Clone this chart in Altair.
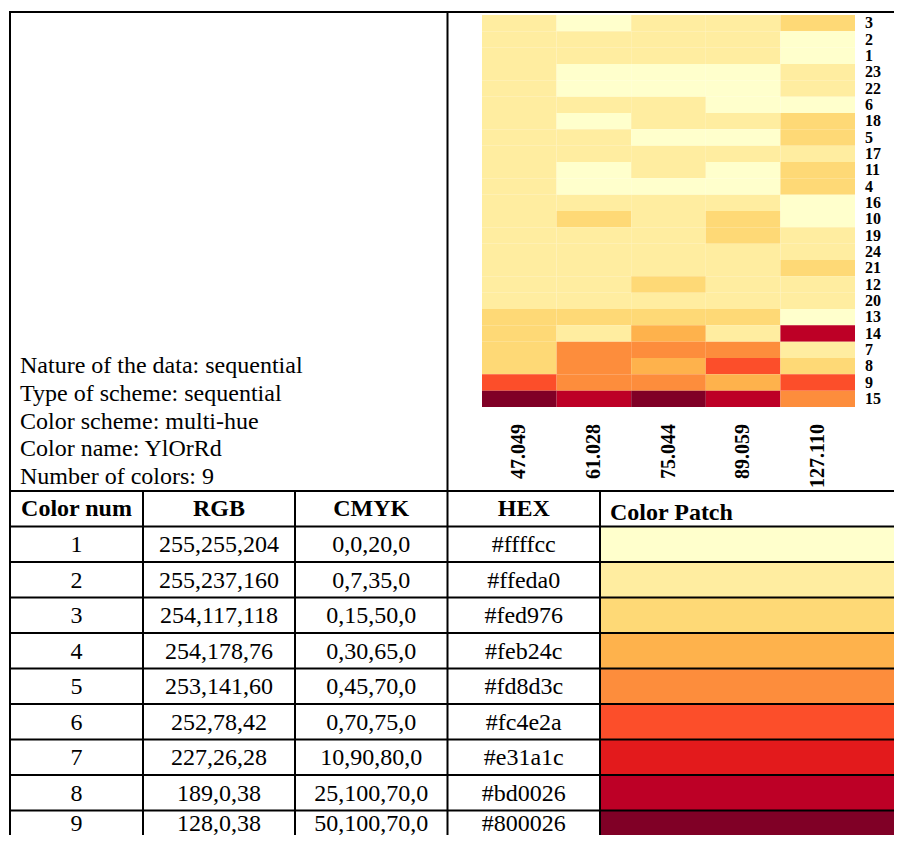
import altair as alt
import pandas as pd

# ---------------- data ----------------
info_lines = [
    "Nature of the data: sequential",
    "Type of scheme: sequential",
    "Color scheme: multi-hue",
    "Color name: YlOrRd",
    "Number of colors: 9",
]
headers = ["Color num", "RGB", "CMYK", "HEX", "Color Patch"]
color_nums = ["1", "2", "3", "4", "5", "6", "7", "8", "9"]
rgb_vals = ["255,255,204", "255,237,160", "254,117,118", "254,178,76", "253,141,60",
            "252,78,42", "227,26,28", "189,0,38", "128,0,38"]
cmyk_vals = ["0,0,20,0", "0,7,35,0", "0,15,50,0", "0,30,65,0", "0,45,70,0",
             "0,70,75,0", "10,90,80,0", "25,100,70,0", "50,100,70,0"]
hex_vals = ["#ffffcc", "#ffeda0", "#fed976", "#feb24c", "#fd8d3c",
            "#fc4e2a", "#e31a1c", "#bd0026", "#800026"]

heat_cols = ["47.049", "61.028", "75.044", "89.059", "127.110"]
heat_rows = ["3", "2", "1", "23", "22", "6", "18", "5", "17", "11", "4", "16",
             "10", "19", "24", "21", "12", "20", "13", "14", "7", "8", "9", "15"]
heat_levels = [
    [2, 1, 2, 2, 3],
    [2, 2, 2, 2, 1],
    [2, 2, 2, 2, 1],
    [2, 1, 1, 1, 2],
    [2, 1, 1, 1, 2],
    [2, 2, 2, 1, 1],
    [2, 1, 2, 2, 3],
    [2, 2, 1, 1, 3],
    [2, 2, 2, 2, 2],
    [2, 1, 2, 1, 3],
    [2, 1, 1, 1, 3],
    [2, 2, 2, 2, 1],
    [2, 3, 2, 3, 1],
    [2, 2, 2, 3, 2],
    [2, 2, 2, 2, 2],
    [2, 2, 2, 2, 3],
    [2, 2, 3, 2, 2],
    [2, 2, 2, 2, 2],
    [3, 3, 3, 3, 1],
    [3, 2, 4, 2, 8],
    [3, 5, 5, 5, 2],
    [3, 5, 4, 6, 3],
    [6, 5, 5, 4, 6],
    [9, 8, 9, 8, 5],
]

# ---------------- layout (chart pixels) ----------------
W, H = 886, 827
FONT = "Liberation Serif"
COL_EDGES = [2, 135, 287, 439.5, 592, 904]
TOP = 4
HEAD_TOP = 483
ROW_H = 35.5
HEAT_XR = [474, 847]
HEAT_YR = [7, 399]
LW = 2
FS = 24


def sx():
    return alt.Scale(domain=[0, W], range=[0, W], nice=False, zero=False)


def sy():
    return alt.Scale(domain=[0, H], range=[0, H], nice=False, zero=False)


n = len(color_nums)
row_tops = [HEAD_TOP + ROW_H * (i + 1) for i in range(n)]

# colour patches
patch_df = pd.DataFrame({
    "x": [COL_EDGES[4]] * n, "x2": [COL_EDGES[5]] * n,
    "y": row_tops, "y2": [t + ROW_H for t in row_tops], "hex": hex_vals,
})
patches = alt.Chart(patch_df).mark_rect().encode(
    x=alt.X("x:Q", scale=sx(), axis=None), x2="x2:Q",
    y=alt.Y("y:Q", scale=sy(), axis=None), y2="y2:Q",
    color=alt.Color("hex:N", scale=None),
)

# grid lines
lines = []
for yy in [TOP, HEAD_TOP] + [HEAD_TOP + ROW_H * (i + 1) for i in range(n + 1)]:
    lines.append(dict(x=COL_EDGES[0], x2=COL_EDGES[5], y=yy, y2=yy))
for xx in [COL_EDGES[0], COL_EDGES[3]]:
    lines.append(dict(x=xx, x2=xx, y=TOP, y2=H + 20))
for xx in [COL_EDGES[1], COL_EDGES[2], COL_EDGES[4]]:
    lines.append(dict(x=xx, x2=xx, y=HEAD_TOP, y2=H + 20))
grid = alt.Chart(pd.DataFrame(lines)).mark_rule(
    color="black", strokeWidth=LW, strokeCap="square"
).encode(
    x=alt.X("x:Q", scale=sx(), axis=None), x2="x2:Q",
    y=alt.Y("y:Q", scale=sy(), axis=None), y2="y2:Q",
)

# header texts
hdr_rows = []
for j, h in enumerate(headers[:4]):
    hdr_rows.append(dict(x=(COL_EDGES[j] + COL_EDGES[j + 1]) / 2, y=HEAD_TOP + ROW_H / 2, t=h))
hdr = alt.Chart(pd.DataFrame(hdr_rows)).mark_text(
    font=FONT, fontSize=FS, fontWeight="bold", align="center", baseline="middle"
).encode(
    x=alt.X("x:Q", scale=sx(), axis=None), y=alt.Y("y:Q", scale=sy(), axis=None), text="t:N"
)
hdr_patch = alt.Chart(pd.DataFrame([dict(x=COL_EDGES[4] + 10, y=HEAD_TOP + ROW_H / 2 + 4, t=headers[4])])).mark_text(
    font=FONT, fontSize=FS, fontWeight="bold", align="left", baseline="middle"
).encode(
    x=alt.X("x:Q", scale=sx(), axis=None), y=alt.Y("y:Q", scale=sy(), axis=None), text="t:N"
)

# body texts (centred in the visible part of each cell)
body_rows = []
for i in range(n):
    top = row_tops[i]
    bot = min(top + ROW_H, H)
    cy = (top + bot) / 2 + 1
    for j, vals in enumerate([color_nums, rgb_vals, cmyk_vals, hex_vals]):
        body_rows.append(dict(x=(COL_EDGES[j] + COL_EDGES[j + 1]) / 2, y=cy, t=vals[i]))
body = alt.Chart(pd.DataFrame(body_rows)).mark_text(
    font=FONT, fontSize=FS, align="center", baseline="middle"
).encode(
    x=alt.X("x:Q", scale=sx(), axis=None), y=alt.Y("y:Q", scale=sy(), axis=None), text="t:N"
)

# info texts
info_df = pd.DataFrame({"x": [12] * len(info_lines),
                        "y": [358 + 27.8 * k for k in range(len(info_lines))],
                        "t": info_lines})
info = alt.Chart(info_df).mark_text(
    font=FONT, fontSize=FS, align="left", baseline="middle"
).encode(
    x=alt.X("x:Q", scale=sx(), axis=None), y=alt.Y("y:Q", scale=sy(), axis=None), text="t:N"
)

# heatmap
hm_rows = []
for r, lv in zip(heat_rows, heat_levels):
    for c, v in zip(heat_cols, lv):
        hm_rows.append(dict(row=r, col=c, level=v))
hm_df = pd.DataFrame(hm_rows)
hx = alt.Scale(domain=heat_cols, range=HEAT_XR, paddingInner=0, paddingOuter=0)
hy = alt.Scale(domain=heat_rows, range=HEAT_YR, paddingInner=0, paddingOuter=0)
heat_rect = alt.Chart(hm_df).mark_rect().encode(
    x=alt.X("col:N", scale=hx, axis=None),
    y=alt.Y("row:N", scale=hy, axis=None),
    color=alt.Color("level:O", scale=alt.Scale(domain=list(range(1, 10)), range=hex_vals), legend=None),
)
row_lbl = alt.Chart(pd.DataFrame({"row": heat_rows})).mark_text(
    font=FONT, fontSize=16, fontWeight="bold", align="left", baseline="middle"
).encode(
    y=alt.Y("row:N", scale=hy, axis=None), x=alt.value(857), text="row:N"
)
col_lbl = alt.Chart(pd.DataFrame({"col": heat_cols})).mark_text(
    font=FONT, fontSize=20, fontWeight="bold", align="right", baseline="middle", angle=270
).encode(
    x=alt.X("col:N", scale=hx, axis=None), y=alt.value(416), text="col:N"
)
heat = alt.layer(heat_rect, row_lbl, col_lbl)

chart = alt.layer(patches, grid, hdr, hdr_patch, body, info, heat).resolve_scale(
    x="independent", y="independent", color="independent"
).properties(
    width=W, height=H, autosize=alt.AutoSizeParams(type="none"), padding=0,
    background="white",
).configure_view(stroke=None)

chart.save("out.html", embed_options={"renderer": "svg", "actions": False})
